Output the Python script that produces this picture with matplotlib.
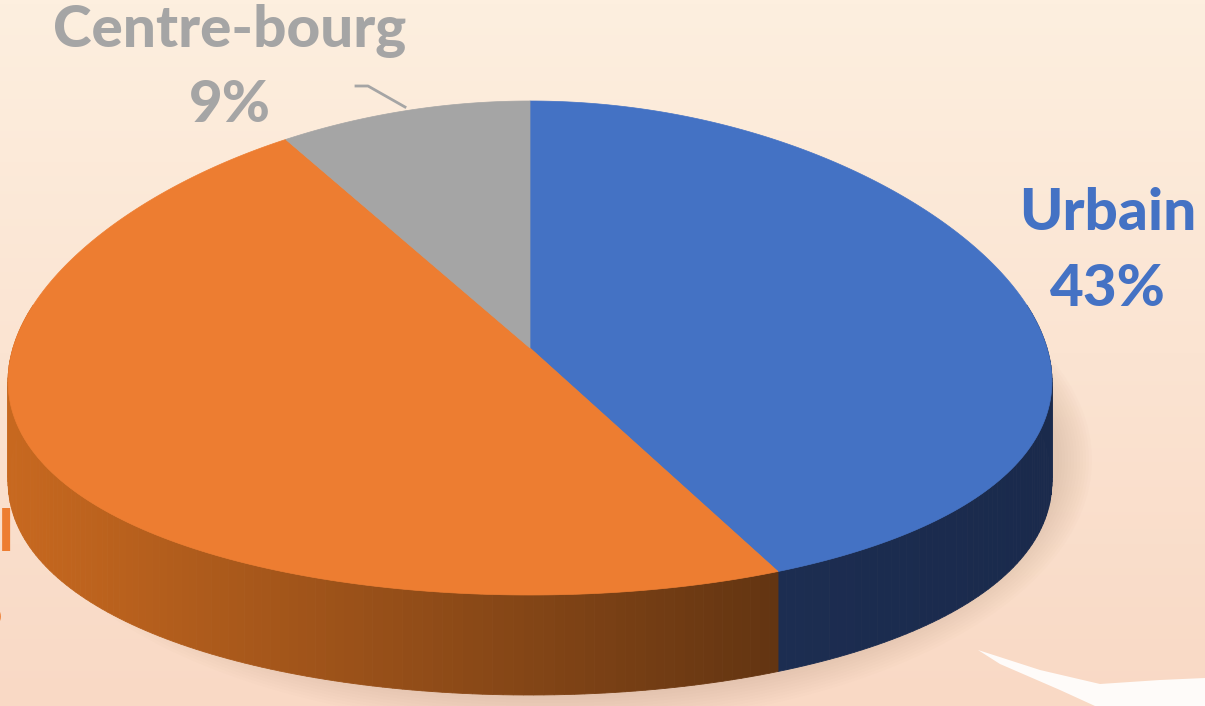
import numpy as np
import matplotlib.pyplot as plt
from matplotlib.colors import to_rgb
from matplotlib.patches import Polygon, Ellipse

labels = ['Urbain', 'Rural', 'Centre-bourg']
shares = [43, 48, 9]
top_colors = ['#4472C4', '#ED7D31', '#A5A5A5']
side_left = ['#22365f', '#c7681f', '#7c7c7c']
side_right = ['#1a2a4c', '#5e3211', '#5a5a5a']

W, H = 1205, 706
cx, cy, a, b, depth, persp = 530, 348, 517, 247, 100, 0.14

fig = plt.figure(figsize=(W / 100, H / 100), dpi=100)
ax = fig.add_axes([0, 0, 1, 1])
ax.set_xlim(0, W)
ax.set_ylim(H, 0)
ax.axis('off')

# background gradient
top_bg = np.array(to_rgb('#fdefdf'))
bot_bg = np.array(to_rgb('#f9d9c5'))
t = np.linspace(0, 1, 200)[:, None, None]
grad = top_bg * (1 - t) + bot_bg * t
grad = np.repeat(grad, 2, axis=1)
ax.imshow(grad, extent=[0, W, H, 0], aspect='auto', zorder=0)

# soft shadow under the pie
for k in range(12):
    ax.add_patch(Ellipse((cx + 20, cy + depth + 12), 2 * a + 50 - k * 6, 2 * b + 40 - k * 6,
                         color='#b08870', alpha=0.025, lw=0, zorder=1))


def pt(theta, dy=0):
    r = np.radians(theta)
    c = np.cos(r)
    return cx + a * np.sin(r) * (1 - persp * c), cy - b * c + dy


# slice angles, clockwise from 12 o'clock
bounds = np.concatenate([[0], np.cumsum(shares)]) * 3.6

# side walls (only the front half shows)
for i in range(len(shares)):
    t0, t1 = max(bounds[i], 80), min(bounds[i + 1], 280)
    if t1 <= t0:
        continue
    steps = np.linspace(t0, t1, int(t1 - t0) + 2)
    cl, cr = np.array(to_rgb(side_left[i])), np.array(to_rgb(side_right[i]))
    for s0, s1 in zip(steps[:-1], steps[1:]):
        x0, y0 = pt(s0)
        x1, y1 = pt(s1)
        f = np.clip(((x0 + x1) / 2 - (cx - a)) / (2 * a), 0, 1)
        if i == 1:
            f = np.clip(((x0 + x1) / 2 - (cx - a)) / 800, 0, 1)
        col = cl * (1 - f) + cr * f
        ax.add_patch(Polygon([(x0, y0), (x1, y1), (x1, y1 + depth), (x0, y0 + depth)],
                             closed=True, color=col, lw=0.6, zorder=2))

# top faces
for i in range(len(shares)):
    th = np.linspace(bounds[i], bounds[i + 1], 200)
    xs, ys = pt(th)
    poly = [(cx, cy)] + list(zip(xs, ys))
    ax.add_patch(Polygon(poly, closed=True, facecolor=top_colors[i],
                         edgecolor=top_colors[i], lw=0.5, zorder=3))

# labels
fnt = dict(family=['Lato', 'DejaVu Sans'], fontweight='black', fontsize=42)
ax.text(230, 47, labels[2], color='#a5a5a5', ha='center', va='baseline', **fnt)
ax.text(230, 122, f'{shares[2]}%', color='#a5a5a5', ha='center', va='baseline', **fnt)
ax.text(1108, 230, labels[0], color='#4472C4', ha='center', va='baseline', **fnt)
ax.text(1108, 306, f'{shares[0]}%', color='#4472C4', ha='center', va='baseline', **fnt)
ax.text(14, 551, labels[1], color='#ED7D31', ha='right', va='baseline', **fnt)
ax.text(4, 627, f'{shares[1]}%', color='#ED7D31', ha='right', va='baseline', **fnt)

# leader line for Centre-bourg
ax.plot([356, 368, 405], [86, 86, 107], color='#a5a5a5', lw=2, zorder=4)

# white streak bottom right
ax.add_patch(Polygon([(978, 650), (1040, 670), (1100, 684), (1160, 680), (1205, 678), (1205, 706),
                      (1095, 706), (1060, 690), (1000, 664)], closed=True, color='white',
                     alpha=0.9, lw=0, zorder=1))

fig.savefig('out.png', dpi=100)
